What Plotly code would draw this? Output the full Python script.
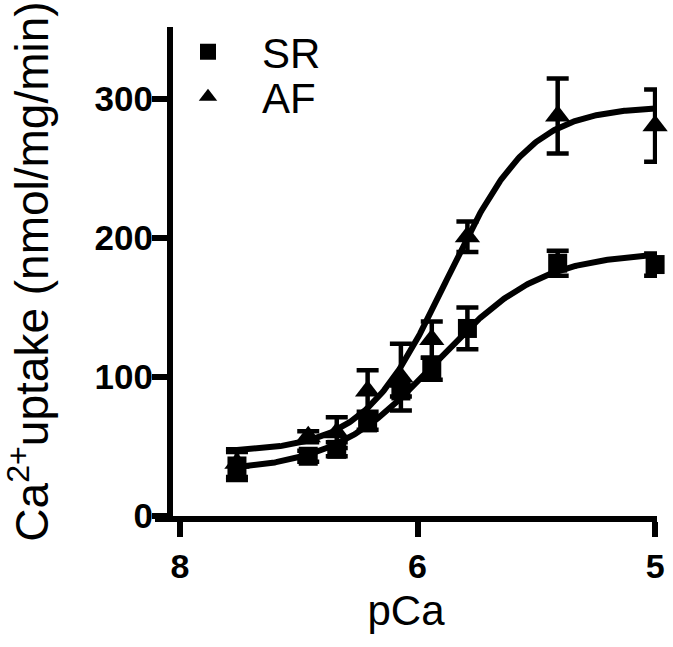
import numpy as np
import plotly.graph_objects as go

# ---- data (x in axis units; tick labels as printed on the original) ----
pca = [6.76, 6.46, 6.34, 6.21, 6.07, 5.94, 5.79, 5.41, 5.00]
sr_mean = [36, 43, 48, 67, 90, 106, 135, 182, 181]
sr_err = [10, 4, 5, 5, 4, 8, 15, 9, 8]
af_mean = [38, 57, 60, 90, 100, 127, 201, 288, 281]
af_err = [10, 4, 11, 15, 24, 13, 11, 27, 26]

x_tickvals = [7, 6, 5]
x_ticktext = ["8", "6", "5"]
y_tickvals = [0, 100, 200, 300]

# fitted sigmoidal (Hill) curve parameters: bottom, top, pEC50, slope
sr_fit = dict(bottom=32, top=190, p50=5.92, n=2.0)
af_fit = dict(bottom=46, top=295, p50=5.876, n=2.5)


def hill(v, p):
    v = np.asarray(v)
    return p["bottom"] + (p["top"] - p["bottom"]) / (1 + 10 ** (p["n"] * (v - p["p50"])))


xs = np.linspace(max(pca), min(pca), 300)

FONT = "Arial, Liberation Sans, sans-serif"
fig = go.Figure()

fig.add_trace(go.Scatter(x=xs, y=hill(xs, af_fit), mode="lines",
                         line=dict(color="black", width=6), showlegend=False,
                         hoverinfo="skip"))
fig.add_trace(go.Scatter(x=xs, y=hill(xs, sr_fit), mode="lines",
                         line=dict(color="black", width=6), showlegend=False,
                         hoverinfo="skip"))

fig.add_trace(go.Scatter(x=pca, y=af_mean, mode="markers", name="AF",
                         legend="legend2",
                         marker=dict(symbol="triangle-up", size=22, color="black"),
                         error_y=dict(type="data", array=af_err, visible=True,
                                      color="black", thickness=4.5, width=11),
                         cliponaxis=False))
fig.add_trace(go.Scatter(x=pca, y=sr_mean, mode="markers", name="SR",
                         legend="legend",
                         marker=dict(symbol="square", size=19, color="black"),
                         error_y=dict(type="data", array=sr_err, visible=True,
                                      color="black", thickness=4.5, width=11),
                         cliponaxis=False))

leg_common = dict(xanchor="left", yanchor="middle",
                  font=dict(size=42, family=FONT, color="black"),
                  itemwidth=98, bgcolor="rgba(0,0,0,0)", borderwidth=0)

fig.update_layout(
    width=673, height=647,
    margin=dict(l=155, r=16, t=27, b=131, autoexpand=False),
    paper_bgcolor="white", plot_bgcolor="white",
    font=dict(family=FONT, color="black"),
    showlegend=True,
    legend=dict(x=-0.002, y=0.949, **leg_common),
    legend2=dict(x=-0.002, y=0.857, **leg_common),
    xaxis=dict(range=[7.105, 4.992], tickvals=x_tickvals, ticktext=x_ticktext,
               showgrid=False, zeroline=False, showline=True, linecolor="black",
               linewidth=6, ticks="outside", ticklen=15, tickwidth=6,
               tickcolor="black", automargin=False,
               tickfont=dict(size=34, family=FONT, weight="bold"),
               title=dict(text="pCa", font=dict(size=42, family=FONT), standoff=14)),
    yaxis=dict(range=[0, 352], tickvals=y_tickvals, showgrid=False, zeroline=False,
               showline=True, linecolor="black", linewidth=6, ticks="outside",
               ticklen=15, tickwidth=6, tickcolor="black", automargin=False,
               anchor="free", position=0.0299, ticklabelstandoff=-8,
               tickfont=dict(size=35, family=FONT, weight="bold"),
               title=dict(text="Ca<sup>2+</sup>uptake (nmol/mg/min)",
                          font=dict(size=46, family=FONT), standoff=34)),
)

fig.write_html("out.html", config={"displayModeBar": False},
               post_script="document.body.style.margin='0';")
